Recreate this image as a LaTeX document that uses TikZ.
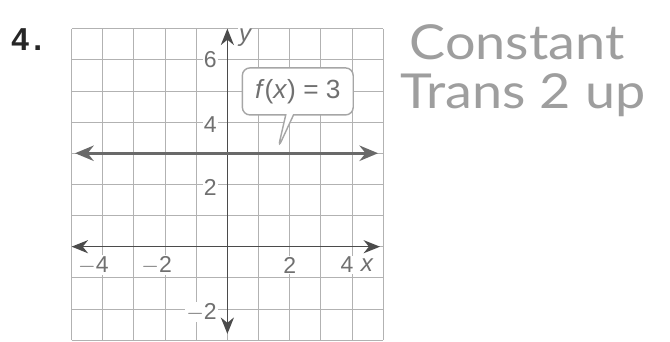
\documentclass[tikz,border=0pt]{standalone}
\usepackage{fontspec}
\setmainfont{Liberation Sans}
\newfontfamily\handfont{Lato}
\usepackage{tikz}
\usetikzlibrary{arrows.meta, positioning, shapes.callouts}
\definecolor{gridgray}{RGB}{178,178,178}
\definecolor{axisgray}{RGB}{75,75,75}
\definecolor{linegray}{RGB}{105,105,105}
\definecolor{labelgray}{RGB}{112,112,112}
\definecolor{pencil}{RGB}{158,158,158}

\begin{document}
\begin{tikzpicture}[
    every node/.style={font=\fontsize{21}{21}\selectfont, text=labelgray},
    tick/.style={fill=white, inner sep=1pt},
    axis/.style={{Stealth[length=15pt, width=12pt]}-{Stealth[length=15pt, width=12pt]}, line width=1.3pt, axisgray},
    graph/.style={{Stealth[length=17pt, width=14pt]}-{Stealth[length=17pt, width=14pt]}, line width=3pt, linegray},
    bubble/.style={rectangle callout, rounded corners=7pt, draw=gray!70, line width=1.3pt, fill=white,
        minimum width=3.56cm, minimum height=1.51cm, font=\fontsize{24}{24}\selectfont},
    hand/.style={font=\handfont\fontsize{44}{44}\selectfont, text=pencil, xscale=1.12, inner sep=0pt, anchor=base},
]
  \useasboundingbox (-7.30,-3.03) rectangle (14.21,7.92);

  % Grid
  \draw[gridgray, line width=0.8pt] (-5,-3) grid (5,7);

  % Axes
  \coordinate (xl) at (-5.0,0);
  \coordinate (xr) at (4.9,0);
  \coordinate (yb) at (0,-2.8);
  \coordinate (yt) at (0,7.0);
  \draw[axis] (xl) -- (xr);
  \draw[axis] (yb) -- (yt);

  % Tick labels
  \node[tick, anchor=east] (ysix) at (-0.3,6) {6};
  \node[tick, anchor=east] (yfour) at (-0.3,3.93) {4};
  \node[tick, anchor=east] (ytwo) at (-0.3,1.9) {2};
  \node[tick, anchor=east] (ymtwo) at (-0.3,-2.1) {$-$2};
  \node[tick] (xmfour) at (-4.3,-0.59) {$-$4};
  \node[tick] (xmtwo) at (-2.27,-0.59) {$-$2};
  \node[tick] (xtwo) at (2.0,-0.59) {2};
  \node[tick] (xfour) at (3.84,-0.59) {4};
  \node[tick, font=\itshape\fontsize{22}{22}\selectfont] (xlab) at (4.48,-0.59) {x};
  \node[tick, font=\itshape\fontsize{22}{22}\selectfont] (ylab) at (0.57,6.72) {y};

  % f(x) = 3
  \coordinate (gl) at (-4.89,3);
  \coordinate (gr) at (4.84,3);
  \draw[graph] (gl) -- (gr);

  \coordinate (tip) at (1.63,3.17);
  \node[bubble, callout absolute pointer={(tip)}] (fx) at (2.26,4.985)
    {\textit{f}(\textit{x}) = 3};

  % Problem number
  \node[font=\bfseries\fontsize{29}{29}\selectfont, text=black!85] (num) at (-6.44,6.65) {4\hspace{4pt}.};

  % Pencil note
  \node[hand] (const) at (9.30,6.0) {Constant};
  \node[hand] (trans) at (9.49,4.45) {Trans 2 up};
\end{tikzpicture}
\end{document}
